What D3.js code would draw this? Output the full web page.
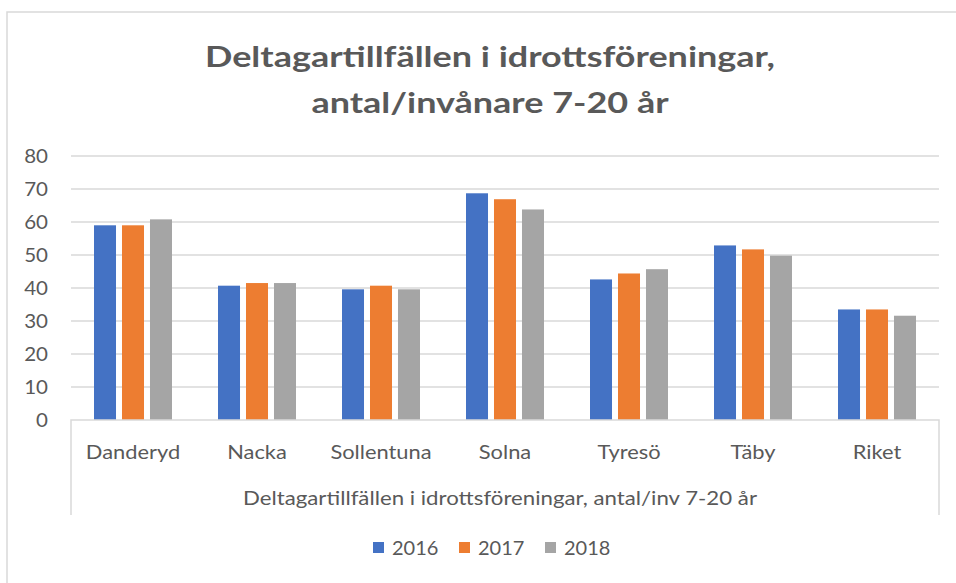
<!DOCTYPE html>
<html><head><meta charset="utf-8">
<script src="https://cdn.jsdelivr.net/npm/d3@7"></script>
<style>body{margin:0;background:#fff}svg{display:block}text{font-family:Lato,"Open Sans",sans-serif;fill:#595959}</style>
</head><body>
<script>
const categories = ["Danderyd","Nacka","Sollentuna","Solna","Tyresö","Täby","Riket"];
const seriesNames = ["2016","2017","2018"];
const values2016 = [59, 40.7, 39.6, 68.7, 42.6, 52.9, 33.5];
const values2017 = [59, 41.5, 40.7, 66.9, 44.4, 51.7, 33.5];
const values2018 = [60.8, 41.5, 39.6, 63.8, 45.7, 49.8, 31.6];
const yTicks = [0,10,20,30,40,50,60,70,80];
const titleLines = ["Deltagartillfällen i idrottsföreningar,", "antal/invånare 7-20 år"];
const axisTitle = "Deltagartillfällen i idrottsföreningar, antal/inv 7-20 år";
const colors = ["#4472C4","#ED7D31","#A5A5A5"];

const W = 956, H = 583;
const svg = d3.select("body").append("svg").attr("width", W).attr("height", H);

function stretch(sel, factor) {
  sel.each(function() {
    const len = this.getComputedTextLength();
    d3.select(this).attr("textLength", len * factor).attr("lengthAdjust", "spacingAndGlyphs");
  });
}

// chart border
svg.append("path").attr("d", "M7,583 V12 H956").attr("fill","none").attr("stroke","#d9d9d9").attr("stroke-width",1.5);

const pLeft = 71, pRight = 939, pTop = 156, pBottom = 420;
const x0 = d3.scaleBand().domain(categories).range([pLeft, pRight]).paddingInner(0.371).paddingOuter(0.1855);
const x1 = d3.scaleBand().domain(seriesNames).range([0, x0.bandwidth()]).paddingInner(0.214).paddingOuter(0);
const y = d3.scaleLinear().domain([0, 80]).range([pBottom, pTop]);

// title
const titles = svg.append("g").selectAll("text").data(titleLines).join("text")
  .attr("x", 490).attr("y", (d,i) => 67 + i*46)
  .attr("text-anchor","middle").attr("font-size", 29).attr("font-weight","bold")
  .text(d => d);
stretch(titles, 1.24);

// gridlines
svg.append("g").selectAll("line").data(yTicks.filter(t => t > 0)).join("line")
  .attr("x1", pLeft).attr("x2", pRight).attr("y1", d => y(d)).attr("y2", d => y(d))
  .attr("stroke", "#d9d9d9").attr("stroke-width", 1.3);

// y axis labels
const yAxis = d3.axisLeft(y).tickValues(yTicks).tickSize(0).tickPadding(0);
const gy = svg.append("g").attr("transform", `translate(48,0)`).call(yAxis);
gy.select(".domain").remove();
gy.selectAll("text").attr("font-size", 19).attr("font-family","Lato,sans-serif").attr("fill","#595959");
stretch(gy.selectAll("text"), 1.08);

// bars
const data = categories.map((c, i) => ({ c, vals: [values2016[i], values2017[i], values2018[i]] }));
svg.append("g").selectAll("g").data(data).join("g")
  .attr("transform", d => `translate(${x0(d.c)},0)`)
  .selectAll("rect").data(d => d.vals.map((v, j) => ({ v, s: seriesNames[j], j })))
  .join("rect")
  .attr("x", d => x1(d.s)).attr("width", x1.bandwidth())
  .attr("y", d => y(d.v)).attr("height", d => y(0) - y(d.v))
  .attr("fill", d => colors[d.j]);

// category axis box
svg.append("path").attr("d", `M${pLeft},515 V${pBottom} H${pRight} V515`)
  .attr("fill","none").attr("stroke","#d9d9d9").attr("stroke-width",1.5);

const xAxis = d3.axisBottom(x0).tickSize(0).tickPadding(0);
const gx = svg.append("g").attr("transform", `translate(0,${pBottom + 25})`).call(xAxis);
gx.select(".domain").remove();
gx.selectAll("text").attr("font-size", 19).attr("font-family","Lato,sans-serif").attr("fill","#595959");
stretch(gx.selectAll("text"), 1.15);

const at = svg.append("text").attr("x", 500).attr("y", 505).attr("text-anchor","middle")
  .attr("font-size", 19).text(axisTitle);
stretch(at, 1.17);

// legend
const legendX = [373, 459, 545];
const lg = svg.append("g").selectAll("g").data(seriesNames).join("g")
  .attr("transform", (d,i) => `translate(${legendX[i]},0)`);
lg.append("rect").attr("x",0).attr("y",542).attr("width",11).attr("height",11).attr("fill",(d,i)=>colors[i]);
lg.append("text").attr("x",19).attr("y",555).attr("font-size",20).text(d=>d);
</script>
</body></html>
